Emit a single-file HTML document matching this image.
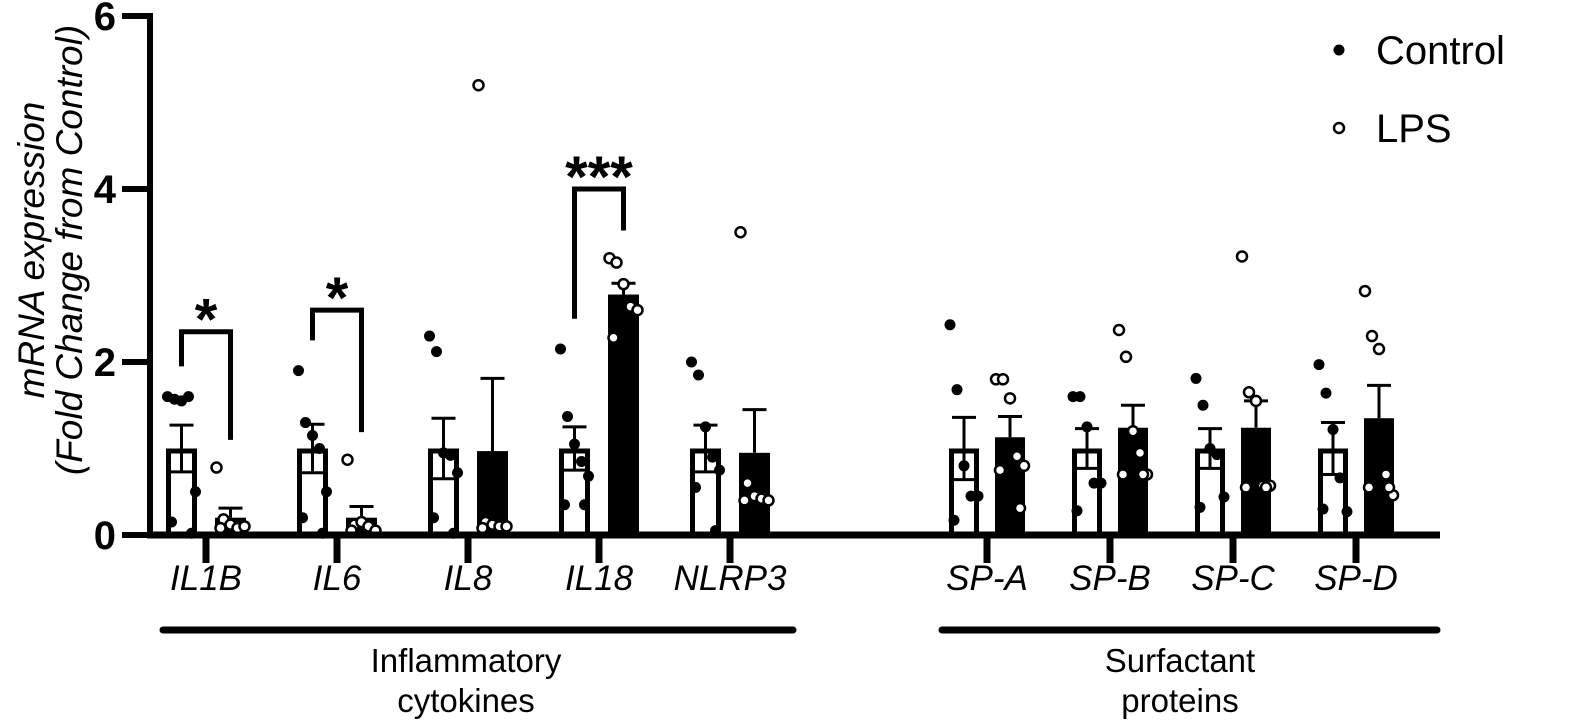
<!DOCTYPE html>
<html><head><meta charset="utf-8"><style>
html,body{margin:0;padding:0;background:#fff;}
svg{display:block;font-family:"Liberation Sans",Arial,sans-serif;}
</style></head><body>
<svg id="chart" width="1573" height="724" viewBox="0 0 1573 724">
<g id="ytitle">
<text transform="translate(44,250) rotate(-90)" text-anchor="middle" font-size="37" font-style="italic">mRNA expression</text>
<text transform="translate(82,250) rotate(-90)" text-anchor="middle" font-size="37" font-style="italic">(Fold Change from Control)</text>
</g>
<g id="marks"></g>
<g id="axes"></g>
<g>
<g><circle cx="1339" cy="50" r="5.5" fill="#000"/><text x="1376" y="64" font-size="40">Control</text></g>
<g><circle cx="1339" cy="128" r="5" fill="#fff" stroke="#000" stroke-width="2.5"/><text x="1376" y="142" font-size="40">LPS</text></g>
</g>
<g>
<line x1="163" y1="630" x2="793" y2="630" stroke="#000" stroke-width="7" stroke-linecap="round"/>
<text x="466" y="672" text-anchor="middle" font-size="33">Inflammatory</text>
<text x="466" y="712" text-anchor="middle" font-size="33">cytokines</text>
</g>
<g>
<line x1="942" y1="630" x2="1437" y2="630" stroke="#000" stroke-width="7" stroke-linecap="round"/>
<text x="1180" y="672" text-anchor="middle" font-size="33">Surfactant</text>
<text x="1180" y="712" text-anchor="middle" font-size="33">proteins</text>
</g>
</svg>
<script>
const categories = ["IL1B","IL6","IL8","IL18","NLRP3","SP-A","SP-B","SP-C","SP-D"];
const ctrlMean = [1,1,1,1,1,1,1,1,1];
const ctrlSem = [0.27,0.28,0.35,0.25,0.27,0.36,0.23,0.23,0.3];
const lpsMean = [0.2,0.2,0.97,2.78,0.95,1.13,1.24,1.24,1.35];
const lpsSem = [0.11,0.13,0.84,0.13,0.5,0.24,0.26,0.31,0.38];
const ctrlPts = [
 [1.6,1.57,1.55,1.6,0.5,0.15,0.02],
 [1.9,1.3,1.15,1.0,0.5,0.2,0.02],
 [2.3,2.12,0.95,0.92,0.72,0.2,0.02],
 [2.15,1.37,1.05,0.85,0.68,0.35,0.35],
 [2.0,1.85,1.25,0.9,0.75,0.55,0.05],
 [2.43,1.68,0.8,0.45,0.45,0.17],
 [1.6,1.6,1.25,0.6,0.6,0.28],
 [1.81,1.5,1.0,0.93,0.44,0.32],
 [1.97,1.64,1.22,0.66,0.27,0.3]
];
const lpsPts = [
 [0.78,0.18,0.12,0.08,0.1,0.08],
 [0.87,0.12,0.15,0.1,0.05,0.05],
 [5.2,0.15,0.12,0.1,0.1,0.08],
 [3.2,3.15,2.9,2.64,2.6,2.28],
 [3.5,0.6,0.45,0.42,0.4,0.4],
 [1.8,1.8,1.58,0.91,0.8,0.75,0.31],
 [2.37,2.06,1.2,0.95,0.7,0.7,0.7],
 [3.22,1.65,1.55,0.57,0.57,0.55,0.55],
 [2.82,2.3,2.15,0.7,0.46,0.55,0.55]
];
const yTicks = [0,2,4,6];
const sigLabels = ["*","*","","***","","","","",""];
const sigTop = [2.35,2.6,0,4.0,0,0,0,0,0];

const NS="http://www.w3.org/2000/svg";
const y = v => 535 - v*86.5;
const xc = i => i<5 ? 206 + i*131 : 987 + (i-5)*123;
const off = i => i<5 ? 24.5 : 23;
function el(tag, attrs, parent){const e=document.createElementNS(NS,tag);for(const k in attrs)e.setAttribute(k,attrs[k]);parent.appendChild(e);return e;}
const marks=document.getElementById('marks');
const axes=document.getElementById('axes');
const jit=[-14,-7,0,7,14,-10,10];
categories.forEach((c,i)=>{
 const g=el('g',{},marks);
 
 
 const bw=i<5?31:30;
 const cx=xc(i)-off(i), lx=xc(i)+off(i);
 const b1=el('rect',{x:cx-bw/2+2.5,y:y(ctrlMean[i])+2.5,width:bw-5,height:535-y(ctrlMean[i])-2.5,fill:'#fff',stroke:'#000','stroke-width':5},g);
 
 
 el('line',{x1:cx,x2:cx,y1:y(ctrlMean[i]+ctrlSem[i]),y2:y(ctrlMean[i]-ctrlSem[i]),stroke:'#000','stroke-width':3},g);
 el('line',{x1:cx-12,x2:cx+12,y1:y(ctrlMean[i]+ctrlSem[i]),y2:y(ctrlMean[i]+ctrlSem[i]),stroke:'#000','stroke-width':3},g);
 el('line',{x1:cx-12,x2:cx+12,y1:y(ctrlMean[i]-ctrlSem[i]),y2:y(ctrlMean[i]-ctrlSem[i]),stroke:'#000','stroke-width':3},g);
 const b2=el('rect',{x:lx-bw/2,y:y(lpsMean[i]),width:bw,height:535-y(lpsMean[i]),fill:'#000'},g);
 
 
 el('line',{x1:lx,x2:lx,y1:y(lpsMean[i]+lpsSem[i]),y2:y(lpsMean[i]),stroke:'#000','stroke-width':3},g);
 el('line',{x1:lx-12,x2:lx+12,y1:y(lpsMean[i]+lpsSem[i]),y2:y(lpsMean[i]+lpsSem[i]),stroke:'#000','stroke-width':3},g);
 ctrlPts[i].forEach((v,k)=>{
  const p=el('circle',{cx:cx+jit[k%7],cy:y(v),r:5.5,fill:'#000'},g);
  
  
 });
 lpsPts[i].forEach((v,k)=>{
  const p=el('circle',{cx:lx+jit[k%7],cy:y(v),r:5,fill:'#fff',stroke:'#000','stroke-width':2.5},g);
  
  
 });
 el('line',{x1:xc(i),x2:xc(i),y1:535,y2:563,stroke:'#000','stroke-width':7},axes);
 const t=el('text',{x:xc(i),y:590,'text-anchor':'middle','font-size':35,'font-style':'italic'},axes);
 t.textContent=c;
 
 
 if(sigLabels[i]){
  const s=el('g',{},marks);
  
  
  const top=y(sigTop[i]);
  const lBase=Math.max(...ctrlPts[i])+0.35, rBase=Math.max(...lpsPts[i])+0.32;
  el('polyline',{points:`${cx},${y(lBase)} ${cx},${top} ${lx},${top} ${lx},${y(rBase)}`,fill:'none',stroke:'#000','stroke-width':5},s);
  const st=el('text',{x:(cx+lx)/2,y:top+8,'text-anchor':'middle','font-size':58,'font-weight':'bold'},s);
  st.textContent=sigLabels[i];
 }
});
el('line',{x1:150,x2:150,y1:13,y2:538,stroke:'#000','stroke-width':6},axes);
el('line',{x1:147,x2:1440,y1:535,y2:535,stroke:'#000','stroke-width':7},axes);
yTicks.forEach(v=>{
 el('line',{x1:122,x2:150,y1:y(v),y2:y(v),stroke:'#000','stroke-width':6},axes);
 const t=el('text',{x:116,y:y(v)+14,'text-anchor':'end','font-size':40,'font-weight':'bold'},axes);
 t.textContent=v;
 
 
});
</script>
</body></html>
